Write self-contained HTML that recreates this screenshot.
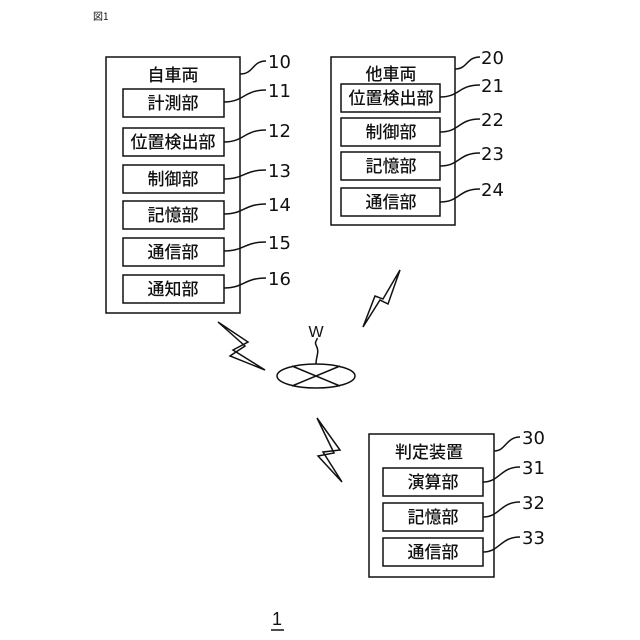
<!DOCTYPE html>
<html><head><meta charset="utf-8"><style>
html,body{margin:0;padding:0;background:#fff;}
svg{display:block;}
text{font-family:"Liberation Sans","Noto Sans CJK JP",sans-serif;fill:#111;}
.j{font-size:17px;text-anchor:middle;font-family:"Noto Sans CJK JP",sans-serif;font-weight:500;}
.n{font-size:18px;font-family:"DejaVu Sans","Liberation Sans",sans-serif;}
rect,path,ellipse,polygon,line{fill:none;stroke:#111;stroke-width:1.5;}
</style></head><body>
<svg width="640" height="640" viewBox="0 0 640 640" xmlns="http://www.w3.org/2000/svg">
<text x="93" y="20" style="font-size:10px;font-family:'Noto Sans CJK JP',sans-serif">図1</text>

<rect x="106" y="57" width="134" height="256"/>
<text class="j" x="173" y="81">自車両</text>
<rect x="123" y="89" width="101" height="28"/><text class="j" x="173" y="109">計測部</text>
<rect x="123" y="128" width="101" height="28"/><text class="j" x="173" y="148">位置検出部</text>
<rect x="123" y="165" width="101" height="28"/><text class="j" x="173" y="185">制御部</text>
<rect x="123" y="201" width="101" height="28"/><text class="j" x="173" y="221">記憶部</text>
<rect x="123" y="238" width="101" height="28"/><text class="j" x="173" y="258">通信部</text>
<rect x="123" y="275" width="101" height="28"/><text class="j" x="173" y="295">通知部</text>
<path d="M240,74 C254,74 252,61 266,61"/><text class="n" x="268" y="68">10</text>
<path d="M224,102 C244,102 244,90 266,90"/><text class="n" x="268" y="97">11</text>
<path d="M224,142 C244,142 244,130 266,130"/><text class="n" x="268" y="137">12</text>
<path d="M224,179 C244,179 244,170 266,170"/><text class="n" x="268" y="177">13</text>
<path d="M224,214 C244,214 244,204 266,204"/><text class="n" x="268" y="211">14</text>
<path d="M224,251 C244,251 244,242 266,242"/><text class="n" x="268" y="249">15</text>
<path d="M224,288 C244,288 244,278 266,278"/><text class="n" x="268" y="285">16</text>

<rect x="331" y="57" width="124" height="168"/>
<text class="j" x="391" y="80">他車両</text>
<rect x="341" y="84" width="99" height="28"/><text class="j" x="391" y="104">位置検出部</text>
<rect x="341" y="118" width="99" height="28"/><text class="j" x="391" y="138">制御部</text>
<rect x="341" y="152" width="99" height="28"/><text class="j" x="391" y="172">記憶部</text>
<rect x="341" y="188" width="99" height="28"/><text class="j" x="391" y="208">通信部</text>
<path d="M455,69 C468,69 466,57 480,57"/><text class="n" x="481" y="64">20</text>
<path d="M440,97 C460,97 458,85 480,85"/><text class="n" x="481" y="92">21</text>
<path d="M440,132 C460,132 458,119 480,119"/><text class="n" x="481" y="126">22</text>
<path d="M440,166 C460,166 458,153 480,153"/><text class="n" x="481" y="160">23</text>
<path d="M440,202 C460,202 458,189 480,189"/><text class="n" x="481" y="196">24</text>

<rect x="369" y="434" width="125" height="143"/>
<text class="j" x="429" y="458">判定装置</text>
<rect x="383" y="468" width="100" height="28"/><text class="j" x="433" y="488">演算部</text>
<rect x="383" y="503" width="100" height="28"/><text class="j" x="433" y="523">記憶部</text>
<rect x="383" y="538" width="100" height="28"/><text class="j" x="433" y="558">通信部</text>
<path d="M494,451 C506,451 506,437 520,437"/><text class="n" x="522" y="444">30</text>
<path d="M483,482 C500,482 500,467 520,467"/><text class="n" x="522" y="474">31</text>
<path d="M483,517 C500,517 500,502 520,502"/><text class="n" x="522" y="509">32</text>
<path d="M483,552 C500,552 500,537 520,537"/><text class="n" x="522" y="544">33</text>

<ellipse cx="316" cy="376" rx="39" ry="12"/>
<line x1="292" y1="366" x2="340" y2="386"/>
<line x1="292" y1="386" x2="340" y2="366"/>
<path d="M316,364 C316,356 320,352 316,345 C314,341 318,340 317,338"/>
<text x="316" y="337" style="font-size:16px;text-anchor:middle">W</text>

<polygon points="218,322 248,342 233,350 265,370 230,356 245,346"/>
<polygon points="400,270 388,304 380,300 363,327 375,296 383,299"/>
<polygon points="317,418 340,450 323,452 342,482 318,456 334,453"/>

<text x="277" y="625" style="font-size:18px;text-anchor:middle">1</text>
<line x1="271" y1="630" x2="284" y2="630"/>
</svg>
</body></html>
